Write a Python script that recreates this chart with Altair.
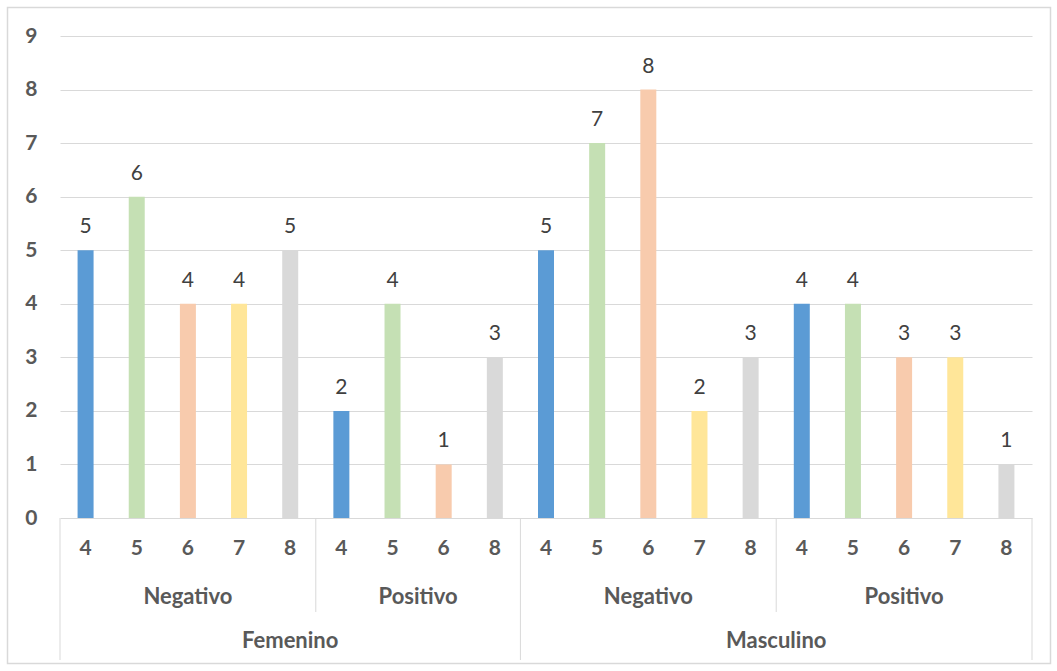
import altair as alt
import pandas as pd

# One entry per bar, left to right
genders = ["Femenino"] * 9 + ["Masculino"] * 10
results = ["Negativo"] * 5 + ["Positivo"] * 4 + ["Negativo"] * 5 + ["Positivo"] * 5
ages = ["4", "5", "6", "7", "8",
        "4", "5", "6", "8",
        "4", "5", "6", "7", "8",
        "4", "5", "6", "7", "8"]
counts = [5, 6, 4, 4, 5,
          2, 4, 1, 3,
          5, 7, 8, 2, 3,
          4, 4, 3, 3, 1]

age_domain = ["4", "5", "6", "7", "8"]
age_colors = ["#5B9BD5", "#C5E0B4", "#F8CBAD", "#FFE699", "#D9D9D9"]

W, H = 972, 482
FONT = "Lato"
AXIS_COLOR = "#595959"
GRID = "#D9D9D9"

df = pd.DataFrame({"gender": genders, "result": results, "age": ages, "count": counts})
df["slot"] = range(len(df))
df["pos"] = df["slot"] + 0.5

# Second and third level category spans
res_groups = (df.groupby(["gender", "result"], sort=False)["slot"]
              .agg(["min", "max"]).reset_index())
res_groups["mid"] = (res_groups["min"] + res_groups["max"] + 1) / 2
gen_groups = df.groupby("gender", sort=False)["slot"].agg(["min", "max"]).reset_index()
gen_groups["mid"] = (gen_groups["min"] + gen_groups["max"] + 1) / 2

outer_edges = sorted(set(gen_groups["min"]) | {len(df)})
inner_edges = sorted(set(res_groups["min"]) - set(outer_edges))
outer_df = pd.DataFrame({"edge": outer_edges})
inner_df = pd.DataFrame({"edge": inner_edges})

xscale = alt.Scale(domain=[0, len(df)], nice=False, zero=False, padding=0)
yscale = alt.Scale(domain=[0, 9], nice=False)

bars = alt.Chart(df).mark_bar(size=16).encode(
    x=alt.X("pos:Q", scale=xscale, axis=None),
    y=alt.Y("count:Q", scale=yscale, title=None,
            axis=alt.Axis(values=list(range(10)), format="d", grid=True,
                          gridColor=GRID, gridWidth=1, domain=False, ticks=False,
                          labelPadding=23, labelFont=FONT, labelFontSize=21,
                          labelFontWeight="bold", labelColor=AXIS_COLOR)),
    color=alt.Color("age:N", scale=alt.Scale(domain=age_domain, range=age_colors),
                    legend=None),
)

values = alt.Chart(df).mark_text(font=FONT, fontSize=21, color="#404040",
                                 baseline="alphabetic", dy=-17).encode(
    x=alt.X("pos:Q", scale=xscale),
    y=alt.Y("count:Q", scale=yscale),
    text="count:Q",
)

age_labels = alt.Chart(df).mark_text(font=FONT, fontSize=21, fontWeight="bold",
                                     color=AXIS_COLOR, baseline="middle").encode(
    x=alt.X("pos:Q", scale=xscale),
    y=alt.value(H + 31),
    text="age:N",
)

res_labels = alt.Chart(res_groups).mark_text(font=FONT, fontSize=22, fontWeight="bold",
                                             color=AXIS_COLOR, baseline="middle").encode(
    x=alt.X("mid:Q", scale=xscale),
    y=alt.value(H + 79),
    text="result:N",
)

gen_labels = alt.Chart(gen_groups).mark_text(font=FONT, fontSize=22, fontWeight="bold",
                                             color=AXIS_COLOR, baseline="middle").encode(
    x=alt.X("mid:Q", scale=xscale),
    y=alt.value(H + 123),
    text="gender:N",
)

inner_rules = alt.Chart(inner_df).mark_rule(color=GRID, strokeWidth=1).encode(
    x=alt.X("edge:Q", scale=xscale),
    y=alt.value(H),
    y2=alt.value(H + 94),
)

outer_rules = alt.Chart(outer_df).mark_rule(color=GRID, strokeWidth=1).encode(
    x=alt.X("edge:Q", scale=xscale),
    y=alt.value(H),
    y2=alt.value(H + 142),
)

frame = alt.Chart(pd.DataFrame({"k": [0]})).mark_rect(
    fillOpacity=0, stroke=GRID, strokeWidth=1.5).encode(
    x=alt.value(-52.5), x2=alt.value(990.5),
    y=alt.value(-28.5), y2=alt.value(627.5),
)

chart = alt.layer(
    frame, bars, values, inner_rules, outer_rules, age_labels, res_labels, gen_labels
).properties(
    width=W, height=H,
    autosize=alt.AutoSizeParams(type="none"),
    padding={"left": 60, "top": 36, "right": 25, "bottom": 153},
    background="white",
).configure_view(stroke=None)

chart.save("out.html", embed_options={"renderer": "svg", "actions": False})
